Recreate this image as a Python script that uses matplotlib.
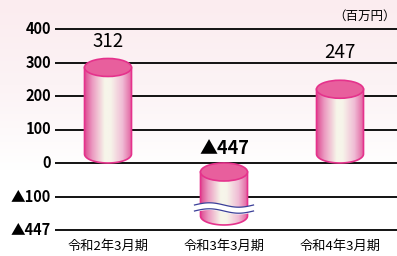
import numpy as np
import matplotlib
matplotlib.use("Agg")
import matplotlib.pyplot as plt
from matplotlib.patches import Ellipse, Polygon
from matplotlib.colors import LinearSegmentedColormap

plt.rcParams['font.family'] = ['Noto Sans CJK JP', 'DejaVu Sans']

# ---- data ----
categories = ["令和2年3月期", "令和3年3月期", "令和4年3月期"]
values = [312, -447, 247]
value_labels = ["312", "▲447", "247"]
tick_values = [400, 300, 200, 100, 0, -100, -200]
tick_labels = ["400", "300", "200", "100", "0", "▲100", "▲447"]
unit_label = "（百万円）"

# broken axis: display position of values beyond the break
break_bottom_display = -185   # where the broken negative bar ends on screen
label_gap_px = [17, 15, 28]   # gap between bar end and value label centre

W, H = 397, 256
fig = plt.figure(figsize=(W / 100, H / 100), dpi=100)

# background gradient (pink top -> white)
bg = fig.add_axes([0, 0, 1, 1])
bg.set_axis_off()
grad = np.linspace(0, 1, 256).reshape(-1, 1)
bg_cmap = LinearSegmentedColormap.from_list("bg", ["#fbecef", "#fcf3f5", "#ffffff", "#ffffff"])
bg.imshow(grad, aspect="auto", cmap=bg_cmap, extent=[0, 1, 0, 1], origin="upper")
bg.set_xlim(0, 1); bg.set_ylim(0, 1)

ax_left_px = 55
ax = fig.add_axes([ax_left_px / W, 0, (W - ax_left_px) / W, 1])
ax.set_facecolor("none")
for s in ax.spines.values():
    s.set_visible(False)
ax.set_xticks([]); ax.set_yticks([])

# y mapping: 400 at px 29, -200 at px 230
ppu = (230 - 29) / 600.0
ytop = 400 + 29 / ppu
ybot = -200 - (H - 230) / ppu
ax.set_ylim(ybot, ytop)
# x mapping: category centres at px 108, 225, 340
unit_px = 116.0
x0_px = 108 - ax_left_px
ax.set_xlim(-x0_px / unit_px, (W - ax_left_px - x0_px) / unit_px)

# grid lines
for tv, tl in zip(tick_values, tick_labels):
    ax.axhline(tv, color="black", lw=1.3, zorder=1)
    ax.text(-x0_px / unit_px - 4 / unit_px, tv, tl, ha="right", va="center",
            fontsize=10.5, fontweight="bold", clip_on=False, zorder=5)

cmap = LinearSegmentedColormap.from_list(
    "cyl", [(0.0, "#de4f94"), (0.15, "#eb98c0"), (0.42, "#f7f6ea"),
            (0.55, "#f7f4ea"), (0.8, "#f0bcd5"), (1.0, "#e2609f")])
edge = "#e5328c"
top_col = "#e85f9d"

bw = 47 / unit_px
ry = 9 / ppu


def cylinder(xc, top, bottom):
    tc = top - ry
    bc = bottom + ry
    t = np.linspace(np.pi, 2 * np.pi, 60)
    arc_x = xc + bw / 2 * np.cos(t)
    arc_y = bc + ry * np.sin(t)
    pts = [(xc - bw / 2, tc)] + list(zip(arc_x, arc_y)) + [(xc + bw / 2, tc)]
    poly = Polygon(pts, closed=True, facecolor="none", edgecolor=edge, lw=1.2, zorder=4)
    ax.add_patch(poly)
    g = np.linspace(0, 1, 200).reshape(1, -1)
    im = ax.imshow(g, cmap=cmap, aspect="auto",
                   extent=[xc - bw / 2, xc + bw / 2, bottom, tc], zorder=3)
    im.set_clip_path(poly)
    ax.add_patch(Ellipse((xc, tc), bw, 2 * ry, facecolor=top_col,
                         edgecolor=edge, lw=1.2, zorder=5))


for i, v in enumerate(values):
    if v >= 0:
        cylinder(i, v, 0)
        ax.text(i, v + label_gap_px[i] / ppu, value_labels[i], ha="center", va="center",
                fontsize=13.5, zorder=6)
    else:
        disp_bottom = max(v, break_bottom_display)
        cylinder(i, 0, disp_bottom)
        ax.text(i, 0 + label_gap_px[i] / ppu, value_labels[i], ha="center", va="center",
                fontsize=13, fontweight="bold", zorder=6)
        # wave break
        xs = np.linspace(i - bw / 2 - 6 / unit_px, i + bw / 2 + 6 / unit_px, 100)
        yc = -(208 - 163) / ppu
        amp = 2.2 / ppu
        ph = (xs - xs[0]) / (xs[-1] - xs[0]) * 2 * np.pi * 1.0
        y1 = yc + 3 / ppu + amp * np.sin(ph)
        y2 = yc - 3 / ppu + amp * np.sin(ph)
        ax.fill_between(xs, y2, y1, color="white", zorder=6)
        ax.plot(xs, y1, color="#3b3f98", lw=0.9, zorder=7)
        ax.plot(xs, y2, color="#3b3f98", lw=0.9, zorder=7)

for i, c in enumerate(categories):
    ax.text(i, -200 - 16 / ppu, c, ha="center", va="center", fontsize=9.5, zorder=6)

fig.text(396 / W, 1 - 16 / H, unit_label, ha="right", va="center", fontsize=9)

fig.savefig("out.png", dpi=100)
